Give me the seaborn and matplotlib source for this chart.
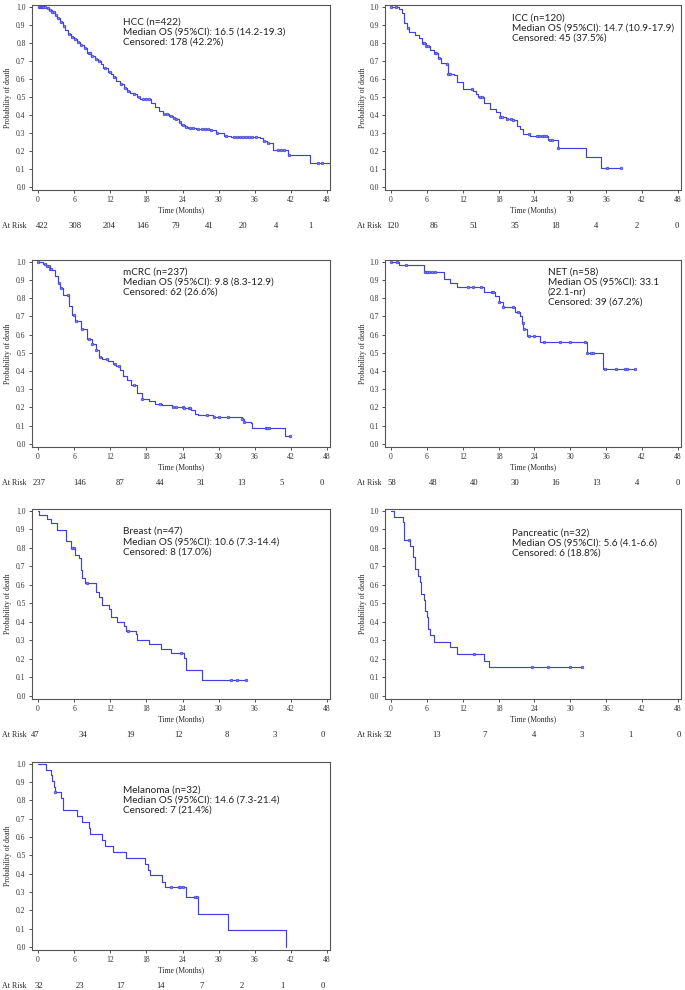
import numpy as np
import pandas as pd
import seaborn as sns
import matplotlib
matplotlib.use("Agg")
import matplotlib.pyplot as plt

# ---- data (time in months, survival probability) ----
hcc_t = [0, 0.8, 1.4, 1.9, 2.3, 2.8, 3.2, 3.7, 4.1, 4.5, 5.0, 5.4, 6.0, 6.5, 7.0, 7.6, 8.2, 8.8,
         9.4, 9.9, 10.4, 10.8, 11.6, 12.1, 12.5, 13.0, 13.6, 14.2, 14.7, 15.3, 15.9, 16.5, 17.0,
         18.1, 18.8, 19.5, 20.1, 20.7, 21.8, 22.4, 22.9, 23.4, 23.8, 24.4, 24.9, 26.3, 28.6, 29.5,
         30.9, 32.0, 36.8, 37.4, 38.0, 39.1, 41.6, 45.2, 49.0]
hcc_s = [1.0, 0.998, 0.995, 0.985, 0.972, 0.954, 0.937, 0.917, 0.893, 0.87, 0.85, 0.835, 0.82,
         0.807, 0.79, 0.77, 0.745, 0.725, 0.712, 0.70, 0.68, 0.66, 0.64, 0.625, 0.61, 0.59, 0.57,
         0.552, 0.535, 0.524, 0.514, 0.50, 0.49, 0.486, 0.465, 0.444, 0.424, 0.404, 0.394, 0.385,
         0.376, 0.36, 0.345, 0.333, 0.325, 0.32, 0.316, 0.297, 0.284, 0.275, 0.27, 0.257, 0.242,
         0.205, 0.18, 0.132, 0.132]
hcc_cens = [0.1, 0.3, 0.5, 0.7, 0.9, 1.1, 1.6, 2.0, 2.4, 2.6, 3.0, 3.4, 3.9, 4.3, 5.2, 5.7, 6.2,
            6.7, 7.2, 7.8, 8.4, 8.6, 9.0, 9.6, 10.1, 11.2, 12.0, 12.7, 13.8, 14.4, 15.0, 16.0, 16.8,
            17.5, 18.0, 18.4, 20.9, 21.5, 22.1, 22.6, 23.0, 23.6, 24.1, 24.6, 25.2, 25.8, 26.6,
            27.2, 27.8, 28.2, 28.8, 29.8, 31.2, 32.5, 33.0, 33.5, 34.0, 34.5, 35.0, 35.5, 36.2,
            37.6, 38.2, 39.8, 40.4, 40.9, 41.7, 46.5, 47.1]
hcc_risk = [422, 308, 204, 146, 79, 41, 20, 4, 1]

icc_t = [0, 1.3, 1.9, 2.1, 2.7, 3.0, 4.1, 4.7, 5.2, 5.8, 6.6, 7.2, 7.8, 8.3, 9.2, 9.5, 9.6, 10.6,
         11.1, 12.0, 13.7, 14.2, 14.5, 15.5, 16.5, 17.6, 18.2, 19.3, 20.4, 21.0, 21.6, 22.1, 23.2,
         26.3, 28.0, 32.6, 35.2, 38.4]
icc_s = [1.0, 0.99, 0.963, 0.909, 0.88, 0.862, 0.845, 0.826, 0.80, 0.78, 0.762, 0.744, 0.717, 0.69,
         0.68, 0.643, 0.625, 0.62, 0.58, 0.543, 0.534, 0.516, 0.497, 0.464, 0.433, 0.415, 0.39,
         0.378, 0.37, 0.34, 0.32, 0.296, 0.28, 0.26, 0.214, 0.165, 0.107, 0.107]
icc_cens = [0, 0.9, 2.8, 5.3, 5.6, 5.9, 6.2, 7.3, 7.6, 8.0, 9.3, 9.6, 9.8, 13.5, 14.9, 15.2, 18.2,
            18.5, 19.4, 20.0, 20.4, 23.1, 24.4, 24.8, 25.2, 25.6, 26.0, 26.6, 27.0, 28.0, 36.1, 38.4]
icc_risk = [120, 86, 51, 35, 18, 4, 2, 0]

mcrc_t = [0, 0.85, 1.4, 2.0, 2.3, 2.8, 3.4, 3.7, 4.2, 5.1, 5.6, 6.2, 7.1, 8.2, 9.0, 9.6, 10.2,
          10.7, 11.6, 12.4, 13.0, 13.6, 14.1, 14.7, 15.5, 16.4, 17.2, 18.4, 19.5, 20.6, 22.3, 24.3,
          25.4, 26.0, 26.6, 29.1, 33.9, 34.2, 35.3, 35.6, 41.1, 41.8]
mcrc_s = [1.0, 0.987, 0.978, 0.963, 0.956, 0.923, 0.886, 0.858, 0.82, 0.757, 0.71, 0.675, 0.63,
          0.574, 0.546, 0.518, 0.48, 0.467, 0.458, 0.441, 0.426, 0.408, 0.375, 0.353, 0.325,
          0.279, 0.246, 0.233, 0.22, 0.211, 0.202, 0.195, 0.184, 0.165, 0.156, 0.147, 0.138,
          0.121, 0.114, 0.088, 0.045, 0.045]
mcrc_cens = [0, 1.1, 1.5, 1.8, 2.0, 2.2, 3.5, 3.9, 5.0, 5.9, 6.3, 7.3, 8.4, 9.0, 9.6, 10.3, 11.5,
             12.8, 13.4, 16.0, 17.2, 20.3, 22.5, 23.0, 24.0, 24.3, 25.0, 25.3, 28.0, 29.2, 30.0,
             31.5, 33.9, 34.2, 37.8, 38.1, 38.4, 41.8]
mcrc_risk = [237, 146, 87, 44, 31, 13, 5, 0]

net_t = [0, 1.3, 5.45, 8.8, 9.9, 11.1, 15.5, 17.4, 18.0, 18.8, 20.7, 21.6, 21.9, 22.1, 22.7,
         24.9, 32.8, 35.5, 40.8]
net_s = [1.0, 0.982, 0.944, 0.905, 0.882, 0.859, 0.835, 0.81, 0.78, 0.752, 0.725, 0.70, 0.666,
         0.63, 0.593, 0.56, 0.50, 0.413, 0.413]
net_cens = [0, 1.0, 2.5, 5.7, 6.0, 6.4, 6.8, 7.3, 12.9, 13.7, 15.0, 16.9, 17.1, 18.0, 18.8, 20.4,
            21.2, 22.0, 22.3, 23.0, 24.0, 25.6, 28.3, 30.0, 32.4, 32.8, 33.4, 33.8, 35.8, 37.6,
            39.2, 39.4, 40.8]
net_risk = [58, 48, 40, 30, 16, 13, 4, 0]

breast_t = [0, 0.2, 1.5, 2.2, 3.2, 4.6, 5.4, 6.1, 6.8, 7.1, 7.3, 7.8, 9.6, 10.2, 10.7, 11.8, 12.1,
            13.2, 14.3, 14.6, 16.3, 16.5, 18.5, 20.4, 22.1, 24.3, 24.6, 27.3, 34.5]
breast_s = [1.0, 0.978, 0.954, 0.936, 0.894, 0.836, 0.80, 0.763, 0.745, 0.68, 0.635, 0.608, 0.562,
            0.535, 0.493, 0.47, 0.425, 0.40, 0.38, 0.352, 0.334, 0.30, 0.28, 0.252, 0.23, 0.206,
            0.142, 0.088, 0.088]
breast_cens = [5.7, 6.0, 8.2, 15.0, 23.8, 32.0, 33.1, 34.5]
breast_risk = [47, 34, 19, 12, 8, 3, 0]

panc_t = [0, 0.55, 2.0, 2.2, 3.2, 3.65, 4.05, 4.6, 4.9, 5.1, 5.5, 5.7, 6.0, 6.25, 6.5, 7.2, 9.85,
          11.1, 15.5, 16.4, 31.9]
panc_s = [1.0, 0.967, 0.94, 0.845, 0.81, 0.75, 0.684, 0.648, 0.615, 0.55, 0.52, 0.456, 0.425, 0.36,
          0.328, 0.29, 0.264, 0.228, 0.19, 0.155, 0.155]
panc_cens = [3.0, 13.8, 23.5, 26.3, 30.0, 31.9]
panc_risk = [32, 13, 7, 4, 3, 1, 0]

mel_t = [0, 1.4, 2.1, 2.4, 2.6, 2.8, 3.8, 4.1, 4.2, 6.4, 7.3, 8.5, 8.6, 10.7, 11.2, 12.5, 14.6,
         17.7, 18.2, 18.6, 20.6, 21.1, 24.6, 26.6, 31.6, 41.2, 41.2]
mel_s = [1.0, 0.969, 0.938, 0.906, 0.875, 0.844, 0.812, 0.781, 0.75, 0.716, 0.684, 0.65, 0.618,
         0.585, 0.55, 0.52, 0.487, 0.455, 0.42, 0.39, 0.357, 0.325, 0.27, 0.18, 0.09, 0.0, 0.0]
mel_cens = [2.8, 22.1, 23.4, 23.6, 24.0, 26.1, 26.4]
mel_risk = [32, 23, 17, 14, 7, 2, 1, 0]

labels = [
    "HCC (n=422)\nMedian OS (95%CI): 16.5 (14.2-19.3)\nCensored: 178 (42.2%)",
    "ICC (n=120)\nMedian OS (95%CI): 14.7 (10.9-17.9)\nCensored: 45 (37.5%)",
    "mCRC (n=237)\nMedian OS (95%CI): 9.8 (8.3-12.9)\nCensored: 62 (26.6%)",
    "NET (n=58)\nMedian OS (95%CI): 33.1\n(22.1-nr)\nCensored: 39 (67.2%)",
    "Breast (n=47)\nMedian OS (95%CI): 10.6 (7.3-14.4)\nCensored: 8 (17.0%)",
    "Pancreatic (n=32)\nMedian OS (95%CI): 5.6 (4.1-6.6)\nCensored: 6 (18.8%)",
    "Melanoma (n=32)\nMedian OS (95%CI): 14.6 (7.3-21.4)\nCensored: 7 (21.4%)",
]

panels = [
    (hcc_t, hcc_s, hcc_cens, hcc_risk),
    (icc_t, icc_s, icc_cens, icc_risk),
    (mcrc_t, mcrc_s, mcrc_cens, mcrc_risk),
    (net_t, net_s, net_cens, net_risk),
    (breast_t, breast_s, breast_cens, breast_risk),
    (panc_t, panc_s, panc_cens, panc_risk),
    (mel_t, mel_s, mel_cens, mel_risk),
]

# ---- layout (pixel boxes in a 685x990 figure) ----
W, H = 685, 990
rows_px = [(5, 190), (260, 447), (509, 699), (762, 950)]
cols_px = [(32, 330), (385, 681)]
text_pos = [(0.305, 0.93), (0.43, 0.955), (0.305, 0.96), (0.55, 0.96),
            (0.305, 0.905), (0.43, 0.895), (0.305, 0.875)]
risk_span = [(42, 310), (393, 677), (39, 322), (392, 678), (35, 323), (388, 679), (39, 323)]

sns.set_style("ticks")
plt.rcParams["font.family"] = ["Liberation Serif", "DejaVu Serif"]
blue = "#4040da"

fig = plt.figure(figsize=(W / 100, H / 100), dpi=100)

for i, (t, s, cens, risk) in enumerate(panels):
    r, c = divmod(i, 2)
    top, bot = rows_px[r]
    left, right = cols_px[c]
    ax = fig.add_axes([left / W, 1 - bot / H, (right - left) / W, (bot - top) / H])

    df = pd.DataFrame({"time": t, "surv": s})
    sns.lineplot(data=df, x="time", y="surv", drawstyle="steps-post", estimator=None,
                 sort=False, color=blue, linewidth=0.85, ax=ax)

    # censored marks sit on the step curve
    tt = np.asarray(t)
    ss = np.asarray(s)
    idx = np.searchsorted(tt, np.asarray(cens), side="right") - 1
    cdf = pd.DataFrame({"time": cens, "surv": ss[np.clip(idx, 0, len(ss) - 1)]})
    sns.scatterplot(data=cdf, x="time", y="surv", marker="o", s=3.5, color="#8484ee",
                    edgecolor=blue, linewidth=0.5, ax=ax, zorder=3)

    ax.set_xlim(-1, 48.5)
    ax.set_ylim(-0.017, 1.01)
    ax.set_xticks(range(0, 49, 6))
    ax.set_yticks(np.arange(0, 1.01, 0.1))
    ax.set_yticklabels([f"{v:.1f}" for v in np.arange(0, 1.01, 0.1)])
    ax.tick_params(labelsize=5.5, length=2.5, width=0.6, colors="#333333", pad=2)
    for sp in ax.spines.values():
        sp.set_visible(True)
        sp.set_color("#555555")
        sp.set_linewidth(0.8)
    ax.set_xlabel("")
    ax.set_ylabel("")

    ax.text(text_pos[i][0], text_pos[i][1], labels[i], transform=ax.transAxes, va="top",
            ha="left", fontsize=7.2, family=["Lato", "DejaVu Sans"], linespacing=1.15,
            color="#222222")

    # axis labels
    ylab_x = 8 if c == 0 else 363
    fig.text(ylab_x / W, 1 - (top + bot) / 2 / H, "Probability of death", rotation=90,
             ha="center", va="center", fontsize=5.5)
    fig.text((left + right) / 2 / W, 1 - (bot + 20) / H, "Time (Months)", ha="center",
             va="center", fontsize=5.5)

    # at-risk row
    ry = 1 - (bot + 36) / H
    fig.text((2 if c == 0 else 357) / W, ry, "At Risk", ha="left", va="center", fontsize=5.7)
    xs = np.linspace(risk_span[i][0], risk_span[i][1], len(risk))
    for xp, n in zip(xs, risk):
        fig.text(xp / W, ry, str(n), ha="center", va="center", fontsize=6.2)

fig.savefig("out.png", dpi=100)
